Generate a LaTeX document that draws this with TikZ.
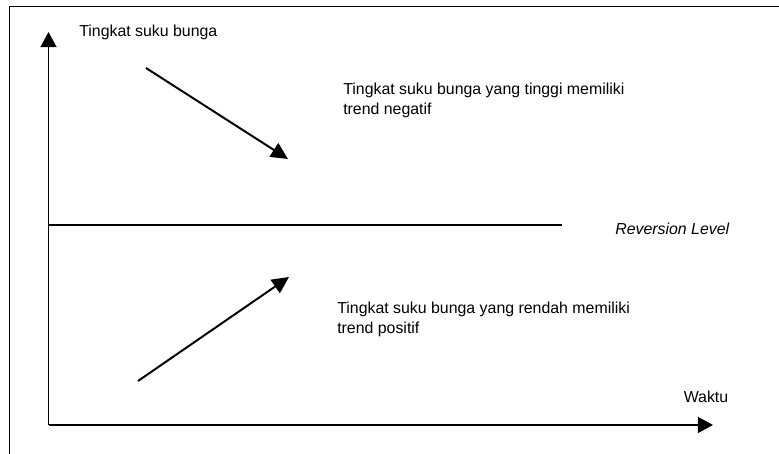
\documentclass[tikz,border=0pt]{standalone}
\usepackage{fontspec}
\setmainfont{Liberation Sans}
\usepackage{tikz}
\usetikzlibrary{arrows.meta}
\usetikzlibrary{positioning}
\tikzset{sumbu/.style = {line width = 1.4pt, -{Triangle[length = 0.38cm, width = 0.4cm]}}}
\tikzset{tren/.style = {line width = 1.4pt, -{Triangle[length = 0.42cm, width = 0.4cm]}}}
\tikzset{lbl/.style = {inner sep = 0, font = \fontsize{11.3}{14.2}\selectfont, align = left}}

\begin{document}
\begin{tikzpicture}
    \useasboundingbox (0, 0) rectangle (19.475, 11.35);
    \draw [line width = 1.2pt] (0.2375, 0) -- (0.2375, 11.1875) -- (19.475, 11.1875);
    \coordinate (O) at (1.2125, 0.725);
    \coordinate (ytip) at (1.2125, 10.55);
    \coordinate (xtip) at (17.825, 0.725);
    \draw [sumbu] (O) -- (ytip);
    \draw [sumbu] (O) -- (xtip);
    \coordinate (rl) at (1.2125, 5.725);
    \coordinate (rr) at (14.05, 5.725);
    \draw [line width = 0.9pt] (rl) -- (rr);
    \coordinate (tinggi) at (3.65, 9.65);
    \coordinate (turun) at (7.2, 7.375);
    \draw [tren] (tinggi) -- (turun);
    \coordinate (rendah) at (3.45, 1.825);
    \coordinate (naik) at (7.225, 4.425);
    \draw [tren] (rendah) -- (naik);
    \node [lbl, anchor = west] (ylbl) at (1.975, 10.55) {Tingkat suku bunga};
    \node [lbl] (xlbl) at (17.65, 1.425) {Waktu};
    \node [lbl, anchor = west] (rlbl) at (15.375, 5.625) {\itshape Reversion Level};
    \node [lbl, anchor = west] (atas) at (8.575, 8.85) {Tingkat suku bunga yang tinggi memiliki\\trend negatif};
    \node [lbl, anchor = west] (bawah) at (8.425, 3.375) {Tingkat suku bunga yang rendah memiliki\\trend positif};
  \end{tikzpicture}
\end{document}
